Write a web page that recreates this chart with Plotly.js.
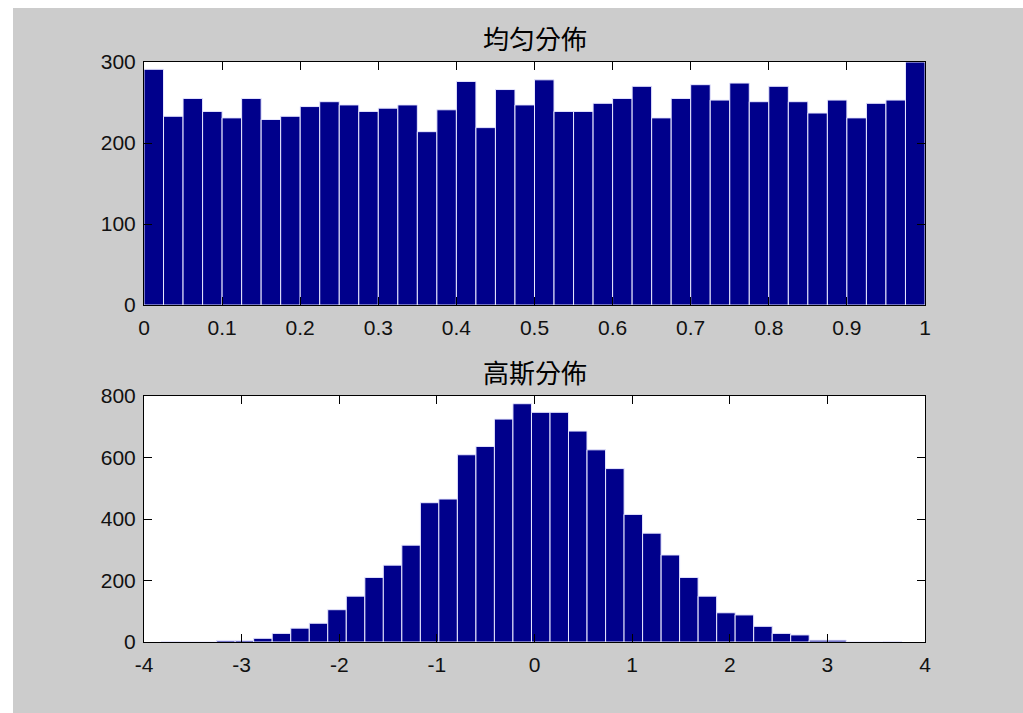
<!DOCTYPE html>
<html>
<head>
<meta charset="utf-8">
<script src="https://cdn.plot.ly/plotly-3.0.1.min.js"></script>
<style>
  html, body { margin: 0; padding: 0; background: #ffffff; width: 1023px; height: 713px; overflow: hidden; }
  #chart { position: absolute; left: 13px; top: 8px; width: 1010px; height: 705px; }
</style>
</head>
<body>
<div id="chart"></div>
<script>
// Uniform distribution histogram (40 bins on [0,1])
const uniformCenters = [0.0125,0.0375,0.0625,0.0875,0.1125,0.1375,0.1625,0.1875,0.2125,0.2375,
  0.2625,0.2875,0.3125,0.3375,0.3625,0.3875,0.4125,0.4375,0.4625,0.4875,
  0.5125,0.5375,0.5625,0.5875,0.6125,0.6375,0.6625,0.6875,0.7125,0.7375,
  0.7625,0.7875,0.8125,0.8375,0.8625,0.8875,0.9125,0.9375,0.9625,0.9875];
const uniformCounts = [291,233,255,239,231,255,229,233,245,251,
  247,239,243,247,214,241,276,219,266,247,
  278,239,239,249,255,270,231,255,272,253,
  274,251,270,251,237,253,231,249,253,300];
const uniformBinWidth = 0.025;

// Gaussian distribution histogram (40 bins)
const gaussCenters = [-3.730,-3.540,-3.351,-3.161,-2.971,-2.782,-2.592,-2.402,-2.212,-2.023,
  -1.833,-1.643,-1.454,-1.264,-1.074,-0.885,-0.695,-0.505,-0.316,-0.126,
  0.064,0.254,0.443,0.633,0.823,1.012,1.202,1.392,1.581,1.771,
  1.961,2.150,2.340,2.530,2.719,2.909,3.099,3.288,3.478,3.668];
const gaussCounts = [1,0,0,5,5,12,28,45,61,105,
  149,210,250,315,453,465,609,636,725,775,
  747,747,686,625,564,415,354,283,210,149,
  95,88,51,28,23,6,6,0,0,1];
const gaussBinWidth = 0.1897;

const titles = ['均匀分佈', '高斯分佈'];
const uniformTicks = [0,0.1,0.2,0.3,0.4,0.5,0.6,0.7,0.8,0.9,1];
const uniformTickText = ['0','0.1','0.2','0.3','0.4','0.5','0.6','0.7','0.8','0.9','1'];
const gaussTicks = [-4,-3,-2,-1,0,1,2,3,4];
const gaussTickText = ['-4','-3','-2','-1','0','1','2','3','4'];
const uniformYTicks = [0,100,200,300];
const gaussYTicks = [0,200,400,600,800];

const barColor = '#00008B';
const edgeColor = '#e8e8ff';

const traces = [
  {
    type: 'bar', x: uniformCenters, y: uniformCounts, width: uniformBinWidth,
    xaxis: 'x', yaxis: 'y',
    marker: { color: barColor, line: { color: edgeColor, width: 1 } },
    hoverinfo: 'x+y'
  },
  {
    type: 'bar', x: gaussCenters, y: gaussCounts, width: gaussBinWidth,
    xaxis: 'x2', yaxis: 'y2',
    marker: { color: barColor, line: { color: edgeColor, width: 1 } },
    hoverinfo: 'x+y'
  }
];

const tickFont = { family: 'Liberation Sans, Arial, sans-serif', size: 21, color: '#111111' };
const axisCommon = {
  showline: true, linecolor: '#000000', linewidth: 1, mirror: 'ticks',
  ticks: 'inside', ticklen: 8, tickwidth: 1, tickcolor: '#000000',
  showgrid: false, zeroline: false, tickfont: tickFont, fixedrange: true
};

const layout = {
  width: 1010, height: 705,
  paper_bgcolor: '#cccccc', plot_bgcolor: '#ffffff',
  margin: { l: 131, r: 98, t: 54, b: 71 },
  showlegend: false,
  bargap: 0,
  xaxis: Object.assign({}, axisCommon, {
    domain: [0, 1], anchor: 'y', range: [0, 1],
    tickmode: 'array', tickvals: uniformTicks, ticktext: uniformTickText,
    ticklabelstandoff: 4
  }),
  yaxis: Object.assign({}, axisCommon, {
    domain: [0.581, 1], anchor: 'x', range: [0, 300],
    tickmode: 'array', tickvals: uniformYTicks, ticklabelstandoff: 3
  }),
  xaxis2: Object.assign({}, axisCommon, {
    domain: [0, 1], anchor: 'y2', range: [-4, 4],
    tickmode: 'array', tickvals: gaussTicks, ticktext: gaussTickText,
    ticklabelstandoff: 4
  }),
  yaxis2: Object.assign({}, axisCommon, {
    domain: [0, 0.4241], anchor: 'x2', range: [0, 800],
    tickmode: 'array', tickvals: gaussYTicks, ticklabelstandoff: 3
  }),
  annotations: [
    { text: titles[0], xref: 'paper', yref: 'paper', x: 0.5, y: 1.0422,
      xanchor: 'center', yanchor: 'middle', showarrow: false,
      font: { family: 'Noto Sans CJK TC, Noto Sans CJK SC, sans-serif', size: 26, color: '#000000' } },
    { text: titles[1], xref: 'paper', yref: 'paper', x: 0.5, y: 0.4672,
      xanchor: 'center', yanchor: 'middle', showarrow: false,
      font: { family: 'Noto Sans CJK TC, Noto Sans CJK SC, sans-serif', size: 26, color: '#000000' } }
  ]
};

Plotly.newPlot('chart', traces, layout, { staticPlot: true, displayModeBar: false });
</script>
</body>
</html>
